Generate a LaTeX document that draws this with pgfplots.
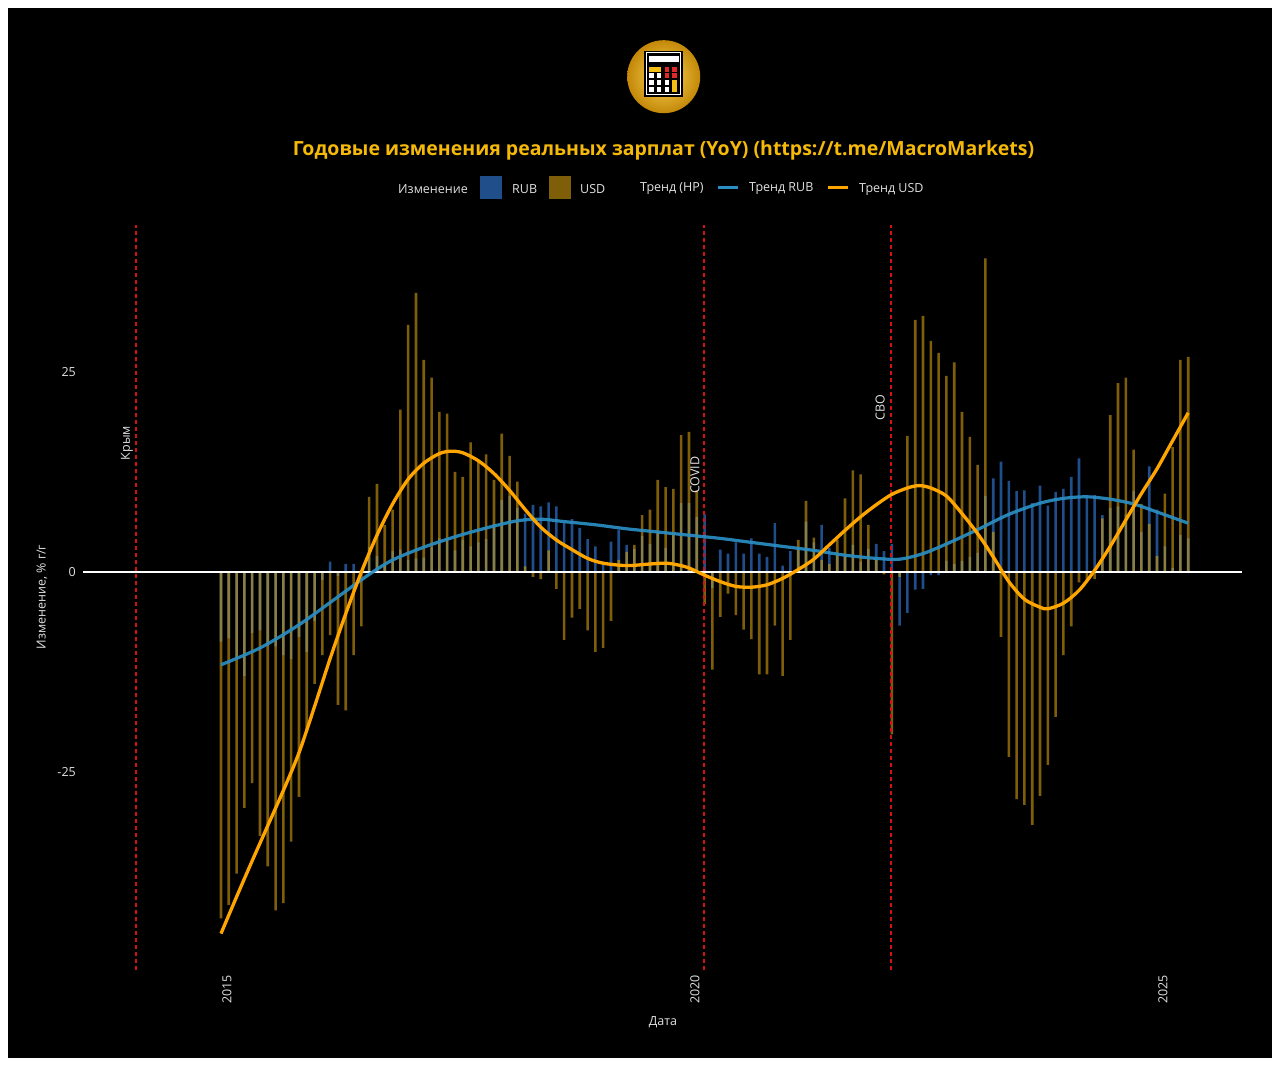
\documentclass[border=0pt]{standalone}
\usepackage{fontspec}
\setmainfont{Open Sans}
\usepackage{pgfplots}
\pgfplotsset{compat=1.18}
\usepackage{pgfplotstable}
\definecolor{rubc}{RGB}{52,130,233}
\definecolor{usdc}{RGB}{212,158,17}
\definecolor{rubtr}{RGB}{42,142,195}
\definecolor{usdtr}{RGB}{255,165,0}
\definecolor{titlec}{RGB}{245,185,10}
\definecolor{txt}{RGB}{225,225,225}
\definecolor{vred}{RGB}{215,15,20}
\definecolor{goldin}{RGB}{250,214,90}
\definecolor{goldout}{RGB}{196,136,8}
\definecolor{calred}{RGB}{225,40,40}
\definecolor{calyel}{RGB}{245,190,20}

\pgfplotstableread{
m usd rub
0 -43.3 -8.7
1 -41.6 -8.3
2 -37.7 -10.6
3 -29.5 -13.0
4 -26.4 -7.6
5 -33.0 -7.3
6 -36.8 -9.2
7 -42.3 -9.3
8 -41.4 -10.4
9 -33.7 -10.9
10 -28.1 -8.1
11 -20.0 -10.0
12 -14.0 -6.1
13 -10.4 -1.0
14 -7.9 1.3
15 -16.6 -0.5
16 -17.3 1.0
17 -10.4 1.0
18 -6.8 0.2
19 9.4 3.1
20 11.0 2.0
21 5.9 0.9
22 7.8 2.6
23 20.3 2.8
24 30.9 1.5
25 34.9 1.7
26 26.5 1.8
27 24.3 3.1
28 20.0 4.2
29 19.8 4.1
30 12.5 2.7
31 11.9 4.0
32 16.2 3.2
33 14.0 3.7
34 14.7 4.1
35 11.5 6.0
36 17.3 9.0
37 14.5 9.5
38 11.3 8.0
39 0.7 7.3
40 -0.6 8.4
41 -0.9 8.2
42 2.7 8.7
43 -2.1 8.2
44 -8.5 6.1
45 -5.7 6.6
46 -4.6 5.5
47 -7.3 4.1
48 -10.0 3.2
49 -9.5 1.0
50 -6.1 3.8
51 1.5 5.3
52 2.5 3.4
53 3.4 2.9
54 7.1 4.5
55 7.8 3.5
56 11.5 5.0
57 10.6 3.0
58 10.4 4.9
59 17.1 8.6
60 17.5 8.6
61 10.2 6.9
62 -4.0 7.2
63 -12.2 -2.0
64 -5.6 2.8
65 -2.7 2.3
66 -5.4 3.7
67 -7.2 2.3
68 -8.4 4.2
69 -12.8 2.3
70 -12.8 1.9
71 -6.7 6.1
72 -13.0 0.8
73 -8.5 2.6
74 4.0 3.0
75 8.9 6.3
76 4.3 3.7
77 1.5 5.9
78 1.0 3.0
79 4.0 2.2
80 9.2 2.0
81 12.7 3.4
82 12.2 1.3
83 5.9 2.9
84 1.5 3.5
85 -0.3 2.6
86 -20.3 3.5
87 -0.6 -6.7
88 17.0 -5.1
89 31.5 -2.2
90 32.0 -2.1
91 28.9 -0.4
92 27.4 -0.4
93 24.5 1.4
94 26.2 1.0
95 20.0 1.4
96 16.9 1.9
97 13.4 2.4
98 39.2 9.5
99 5.0 11.7
100 -8.1 13.8
101 -23.1 11.4
102 -28.4 10.1
103 -29.1 10.2
104 -31.6 8.6
105 -28.0 10.8
106 -24.1 8.3
107 -18.1 10.0
108 -10.4 10.4
109 -6.8 11.9
110 -1.3 14.2
111 -1.2 9.4
112 -0.9 9.6
113 6.7 7.1
114 19.6 8.0
115 23.6 8.2
116 24.3 7.2
117 15.3 10.1
118 8.5 5.0
119 6.0 13.2
120 2.0 7.8
121 9.8 3.2
122 15.6 0.5
123 26.5 4.6
124 26.9 4.2
}\bars

\pgfplotstableread{
m v
0 -11.6
5 -9.5
10 -6.6
15 -3.1
19 -0.3
22 1.5
26 3.1
30 4.4
34 5.5
38 6.4
41 6.6
44 6.3
48 5.9
52 5.4
56 5.0
60 4.6
64 4.2
68 3.7
72 3.2
76 2.7
80 2.1
84 1.7
87 1.6
90 2.3
93 3.5
97 5.3
101 7.2
105 8.6
108 9.2
111 9.4
114 9.1
117 8.5
120 7.5
124 6.1
}\rubtrend

\pgfplotstableread{
m v
0 -45.2
2 -40.6
4 -36.1
6 -31.7
8 -27.3
10 -22.6
12 -16.8
14 -10.8
16 -5.2
18 0.0
20 4.6
22 8.5
24 11.6
26 13.6
28 14.8
29.5 15.1
31 14.9
33 13.9
35 12.3
37 10.2
39 7.8
41 5.6
43 4.0
45 2.8
47 1.7
49 1.1
52 0.8
55 1.0
57 1.1
58.5 0.9
60 0.5
62 -0.4
64 -1.2
66 -1.8
68 -1.9
70 -1.6
72 -0.8
74 0.3
76 1.6
78 3.4
80 5.2
82 6.9
84 8.4
86 9.7
88 10.5
89.5 10.8
91 10.5
93 9.5
95 7.3
97 4.8
99 1.9
101 -1.2
103 -3.4
105 -4.4
106 -4.6
108 -3.9
110 -2.3
112 0.2
114 3.2
116 6.5
118 9.8
120 12.9
122 16.4
124 19.9
}\usdtrend

\begin{document}
\begin{tikzpicture}[x=1pt,y=1pt]
\useasboundingbox (0,0) rectangle (1280,1066);
\fill[white] (0,0) rectangle (1280,1066);
\fill[black] (8,8) rectangle (1272,1058);

% logo
\shade[inner color=goldin, outer color=goldout] (663.7,989.3) circle (36.5);
\fill[black] (644,969.3) rectangle (683,1015.3);
\draw[white, line width=0.9pt] (646.2,971.5) rectangle (680.8,1013.1);
\fill[white] (649.3,1004) rectangle (678.7,1010);
\fill[calyel] (649.3,994.3) rectangle (661.4,999.3);
\fill[calred] (664.6,994.3) rectangle (669.3,999.3);
\fill[calred] (672.2,994.3) rectangle (677.3,999.3);
\fill[white] (649.3,987.5) rectangle (654,992.5);
\fill[white] (656.7,987.5) rectangle (661.4,992.5);
\fill[calred] (664.6,987.5) rectangle (669.3,992.5);
\fill[calred] (672.2,987.5) rectangle (677.3,992.5);
\fill[white] (649.3,980.5) rectangle (654,985.5);
\fill[white] (656.7,980.5) rectangle (661.4,985.5);
\fill[white] (664.6,980.5) rectangle (669.3,985.5);
\fill[calyel] (672.2,973.5) rectangle (677.3,985.5);
\fill[white] (649.3,973.5) rectangle (654,978.5);
\fill[white] (656.7,973.5) rectangle (661.4,978.5);
\fill[white] (664.6,973.5) rectangle (669.3,978.5);

% title
\node[text=titlec, font=\fontsize{19.5}{23}\selectfont\bfseries] at (663.5,916) {Годовые изменения реальных зарплат (YoY) (https://t.me/MacroMarkets)};

% legend
\begin{scope}[every node/.style={text=txt, font=\fontsize{12.5}{14}\selectfont, anchor=west, inner sep=0pt}]
\node at (398,877) {Изменение};
\fill[rubc, fill opacity=0.6] (480,867) rectangle (502,890);
\node at (512,877) {RUB};
\fill[usdc, fill opacity=0.6] (549,867) rectangle (571,890);
\node at (580,877) {USD};
\node at (640,877) {Тренд (HP)};
\draw[rubtr, line width=3pt] (718,878) -- (738,878);
\node at (749,877) {Тренд RUB};
\draw[usdtr, line width=3pt] (828,878) -- (848,878);
\node at (859,877) {Тренд USD};
\end{scope}

\begin{axis}[
  at={(83pt,96pt)}, anchor=south west,
  scale only axis, width=1159pt, height=745pt,
  xmin=-17.69, xmax=130.9, ymin=-49.75, ymax=43.375,
  axis line style={draw=none},
  major tick length=0pt,
  xtick={0.77,60.77,120.77}, xticklabels={2015,2020,2025},
  ytick={-25,0,25}, yticklabels={-25,0,25},
  x tick label style={rotate=90, anchor=east, inner ysep=0pt, inner xsep=5pt},
  y tick label style={anchor=east, inner sep=0pt, xshift=-7pt},
  tick label style={text=txt, font=\fontsize{12.5}{14}\selectfont},
  /pgf/number format/assume math mode=true,
]
\addplot[ybar, bar width=2.6pt, bar shift=0pt, fill=rubc, fill opacity=0.6, draw=none] table[x=m,y=rub]{\bars};
\addplot[ybar, bar width=2.6pt, bar shift=0pt, fill=usdc, fill opacity=0.6, draw=none] table[x=m,y=usd]{\bars};
\draw[white, line width=1.1pt] (axis cs:-17.69,0) -- (axis cs:130.9,0);
\draw[vred, opacity=1, line width=1.5pt, dash pattern=on 4pt off 3pt] (axis cs:-10.9,-49.75) -- (axis cs:-10.9,43.375);
\draw[vred, opacity=1, line width=1.5pt, dash pattern=on 4pt off 3pt] (axis cs:61.93,-49.75) -- (axis cs:61.93,43.375);
\draw[vred, opacity=1, line width=1.5pt, dash pattern=on 4pt off 3pt] (axis cs:85.9,-49.75) -- (axis cs:85.9,43.375);
\addplot[rubtr, line width=3.2pt, smooth, opacity=0.92] table[x=m,y=v]{\rubtrend};
\addplot[usdtr, line width=3.3pt, smooth] table[x=m,y=v]{\usdtrend};
\node[rotate=90, text=txt, font=\fontsize{12.5}{14}\selectfont] at (axis cs:-12.05,16.1) {Крым};
\node[rotate=90, text=txt, font=\fontsize{12.5}{14}\selectfont] at (axis cs:60.77,12.1) {COVID};
\node[rotate=90, text=txt, font=\fontsize{12.5}{14}\selectfont] at (axis cs:84.5,20.5) {СВО};
\end{axis}

\node[text=txt, font=\fontsize{12.5}{14}\selectfont] at (663,44) {Дата};
\node[rotate=90, text=txt, font=\fontsize{12.5}{14}\selectfont] at (42,469) {Изменение, \% г/г};
\end{tikzpicture}
\end{document}
